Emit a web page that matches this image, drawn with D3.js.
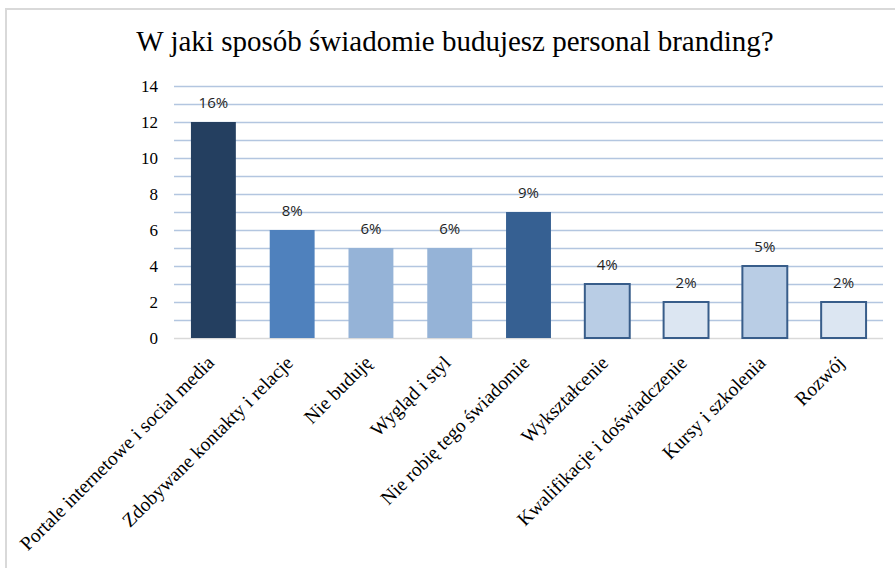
<!DOCTYPE html>
<html>
<head>
<meta charset="utf-8">
<script src="https://cdn.jsdelivr.net/npm/d3@7"></script>
<style>
  html, body { margin: 0; padding: 0; background: #fff; }
  svg { display: block; }
</style>
</head>
<body>
<script>
// Survey answers: how respondents consciously build their personal brand
const categories = [
  "Portale internetowe i social media",
  "Zdobywane kontakty i relacje",
  "Nie buduję",
  "Wygląd i styl",
  "Nie robię tego świadomie",
  "Wykształcenie",
  "Kwalifikacje i doświadczenie",
  "Kursy i szkolenia",
  "Rozwój"
];
const counts = [12, 6, 5, 5, 7, 3, 2, 4, 2];
const percentLabels = ["16%", "8%", "6%", "6%", "9%", "4%", "2%", "5%", "2%"];
const fills = ["#243F60", "#4F81BD", "#95B3D7", "#95B3D7", "#366092", "#B9CDE5", "#DCE6F2", "#B9CDE5", "#DCE6F2"];
const outlined = [false, false, false, false, false, true, true, true, true];
const yTicks = [0, 2, 4, 6, 8, 10, 12, 14];
const title = "W jaki sposób świadomie budujesz personal branding?";

const SERIF = '"Liberation Serif", "Times New Roman", Times, serif';
const SANS = '"Open Sans", "Liberation Sans", Arial, sans-serif';

const W = 895, H = 568;
const plot = { left: 174, right: 883, top: 86, bottom: 338 };

const svg = d3.select("body").append("svg")
  .attr("width", W).attr("height", H);

// outer frame (top and left edges)
svg.append("line").attr("x1", 5).attr("x2", W).attr("y1", 9).attr("y2", 9)
  .attr("stroke", "#D9D9D9").attr("stroke-width", 2);
svg.append("line").attr("x1", 6).attr("x2", 6).attr("y1", 8).attr("y2", H)
  .attr("stroke", "#D9D9D9").attr("stroke-width", 2);

// chart title
svg.append("text")
  .attr("x", 455).attr("y", 51)
  .attr("text-anchor", "middle")
  .style("font-family", SERIF)
  .style("font-size", "29px")
  .attr("fill", "#000")
  .text(title);

const x = d3.scaleBand().domain(categories)
  .range([plot.left, plot.right]).paddingInner(0.43).paddingOuter(0.215);
const y = d3.scaleLinear().domain([0, 14]).range([plot.bottom, plot.top]);

// horizontal gridlines at every unit
svg.append("g").selectAll("line")
  .data(d3.range(1, 15))
  .join("line")
  .attr("x1", plot.left).attr("x2", plot.right)
  .attr("y1", d => Math.round(y(d)) + 0.5).attr("y2", d => Math.round(y(d)) + 0.5)
  .attr("stroke", "#B3C6E0").attr("stroke-width", 1.5);

// category axis baseline
svg.append("line")
  .attr("x1", plot.left).attr("x2", plot.right)
  .attr("y1", y(0) + 0.5).attr("y2", y(0) + 0.5)
  .attr("stroke", "#D9D9D9").attr("stroke-width", 1.5);

// value axis labels
const yAxis = d3.axisLeft(y).tickValues(yTicks).tickSize(0).tickPadding(0).tickFormat(d3.format("d"));
const yG = svg.append("g").attr("transform", `translate(${plot.left - 16},0)`).call(yAxis);
yG.attr("font-family", null).attr("font-size", null);
yG.select(".domain").remove();
yG.selectAll("text")
  .style("font-family", SERIF)
  .style("font-size", "17px")
  .attr("fill", "#000");

// bars
svg.append("g").selectAll("rect")
  .data(categories)
  .join("rect")
  .attr("x", d => x(d))
  .attr("y", (d, i) => y(counts[i]))
  .attr("width", x.bandwidth())
  .attr("height", (d, i) => y(0) - y(counts[i]))
  .attr("fill", (d, i) => fills[i])
  .attr("stroke", (d, i) => outlined[i] ? "#385D8A" : "none")
  .attr("stroke-width", 2);

// percentage labels above bars
svg.append("g").selectAll("text")
  .data(categories)
  .join("text")
  .attr("x", d => x(d) + x.bandwidth() / 2)
  .attr("y", (d, i) => y(counts[i]) - 14)
  .attr("text-anchor", "middle")
  .style("font-family", SANS)
  .style("font-size", "15px")
  .attr("fill", "#1f1f1f")
  .text((d, i) => percentLabels[i]);

// rotated category labels
const xAxis = d3.axisBottom(x).tickSize(0).tickPadding(0);
const xG = svg.append("g").attr("transform", `translate(0,${plot.bottom})`).call(xAxis);
xG.attr("font-family", null).attr("font-size", null);
xG.select(".domain").remove();
xG.selectAll("text")
  .style("font-family", SERIF)
  .style("font-size", "19.5px")
  .attr("fill", "#000")
  .attr("text-anchor", "end")
  .attr("dy", 0)
  .attr("transform", "translate(2,26) rotate(-45)");
</script>
</body>
</html>
